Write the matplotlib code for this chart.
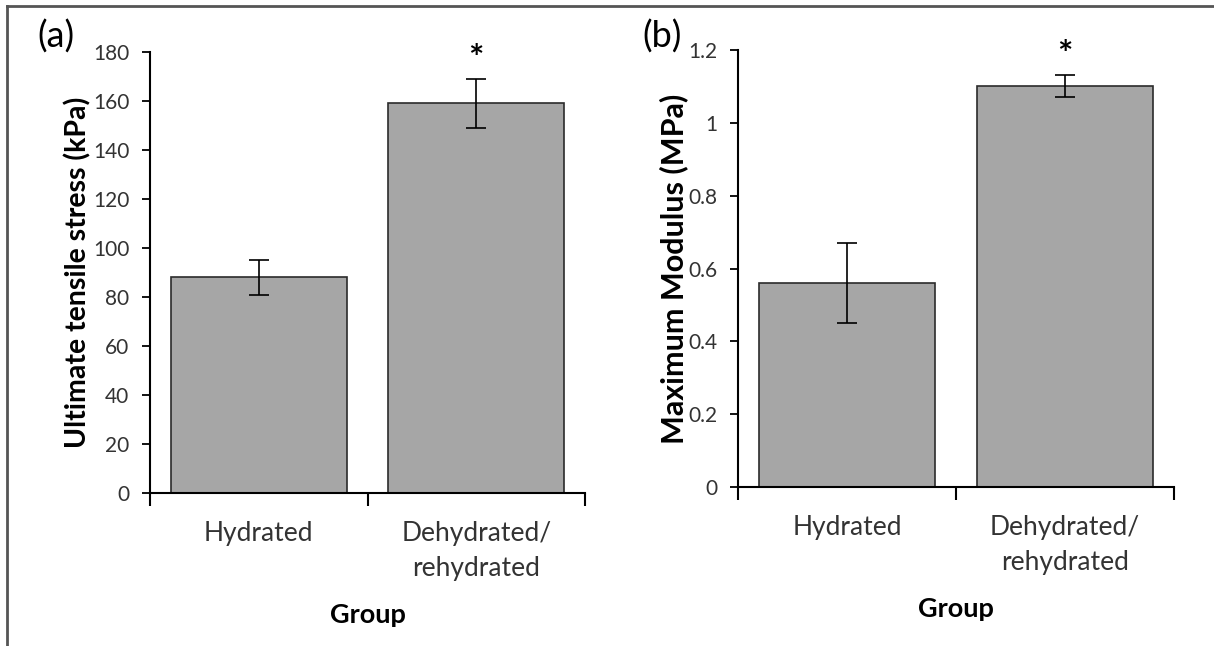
import matplotlib
matplotlib.use("Agg")
import matplotlib.pyplot as plt
from matplotlib.lines import Line2D

plt.rcParams['font.family'] = ['Lato', 'DejaVu Sans']

groups = ["Hydrated", "Dehydrated/\nrehydrated"]

# panel (a) - ultimate tensile stress, kPa
uts_mean = [88, 159]
uts_err = [7, 10]

# panel (b) - maximum modulus, MPa
mod_mean = [0.56, 1.10]
mod_err = [0.11, 0.03]

bar_color = "#a6a6a6"
text_color = "#333333"


def draw_panel(ax, means, errs, ymax, ystep, ylabel, yfmt, ylabelpad, ylabelsize):
    x = [0.5, 1.5]
    ax.bar(x, means, width=0.81, color=bar_color, edgecolor="#2b2b2b",
           linewidth=1.2, zorder=2)
    ax.errorbar(x, means, yerr=errs, fmt="none", ecolor="black",
                elinewidth=1.2, capsize=7, capthick=1.2, zorder=3)

    # significance star above second bar
    ax.text(x[1], means[1] + errs[1] + ymax * 0.045, "*", ha="center",
            va="center", fontsize=26, fontweight="bold", color="black")

    ax.set_xlim(0, 2)
    ax.set_ylim(0, ymax)
    ticks = [i * ystep for i in range(int(round(ymax / ystep)) + 1)]
    ax.set_yticks(ticks)
    ax.set_yticklabels([yfmt(t) for t in ticks])

    # category boundaries as tick marks, labels in between
    ax.set_xticks([0, 1, 2])
    ax.set_xticklabels([])
    ax.set_xticks(x, minor=True)
    ax.set_xticklabels(groups, minor=True, fontsize=19, color=text_color,
                       linespacing=1.5)
    ax.tick_params(axis="x", which="major", direction="out", length=9,
                   width=1.5, color="black")
    ax.tick_params(axis="x", which="minor", length=0, pad=20)
    ax.tick_params(axis="y", direction="out", length=6, width=1.3,
                   labelsize=15, labelcolor=text_color, pad=9)

    for side in ["top", "right"]:
        ax.spines[side].set_visible(False)
    for side in ["left", "bottom"]:
        ax.spines[side].set_linewidth(1.5)
        ax.spines[side].set_color("black")

    ax.set_xlabel("Group", fontsize=19.5, fontweight="bold", labelpad=16)
    ax.set_ylabel(ylabel, fontsize=ylabelsize, fontweight="bold",
                  labelpad=ylabelpad)


fig = plt.figure(figsize=(12.14, 6.46), dpi=100)
ax1 = fig.add_axes([0.1236, 0.2368, 0.3583, 0.6827])
ax2 = fig.add_axes([0.6079, 0.2461, 0.3591, 0.6765])

draw_panel(ax1, uts_mean, uts_err, 180, 20,
           "Ultimate tensile stress (kPa)", lambda t: "%d" % t, 1, 20.5)
draw_panel(ax2, mod_mean, mod_err, 1.2, 0.2,
           "Maximum Modulus (MPa)", lambda t: ("%g" % round(t, 1)), 0, 22)

fig.text(0.046, 0.943, "(a)", fontsize=26, ha="center", va="center")
fig.text(0.545, 0.943, "(b)", fontsize=26, ha="center", va="center")

# frame lines along top and left edge
fig.add_artist(Line2D([0.006, 1.0], [0.991, 0.991], color="#555555",
                      linewidth=2, transform=fig.transFigure))
fig.add_artist(Line2D([0.006, 0.006], [0.0, 0.991], color="#555555",
                      linewidth=2, transform=fig.transFigure))

fig.savefig("out.png", dpi=100, facecolor="white")
